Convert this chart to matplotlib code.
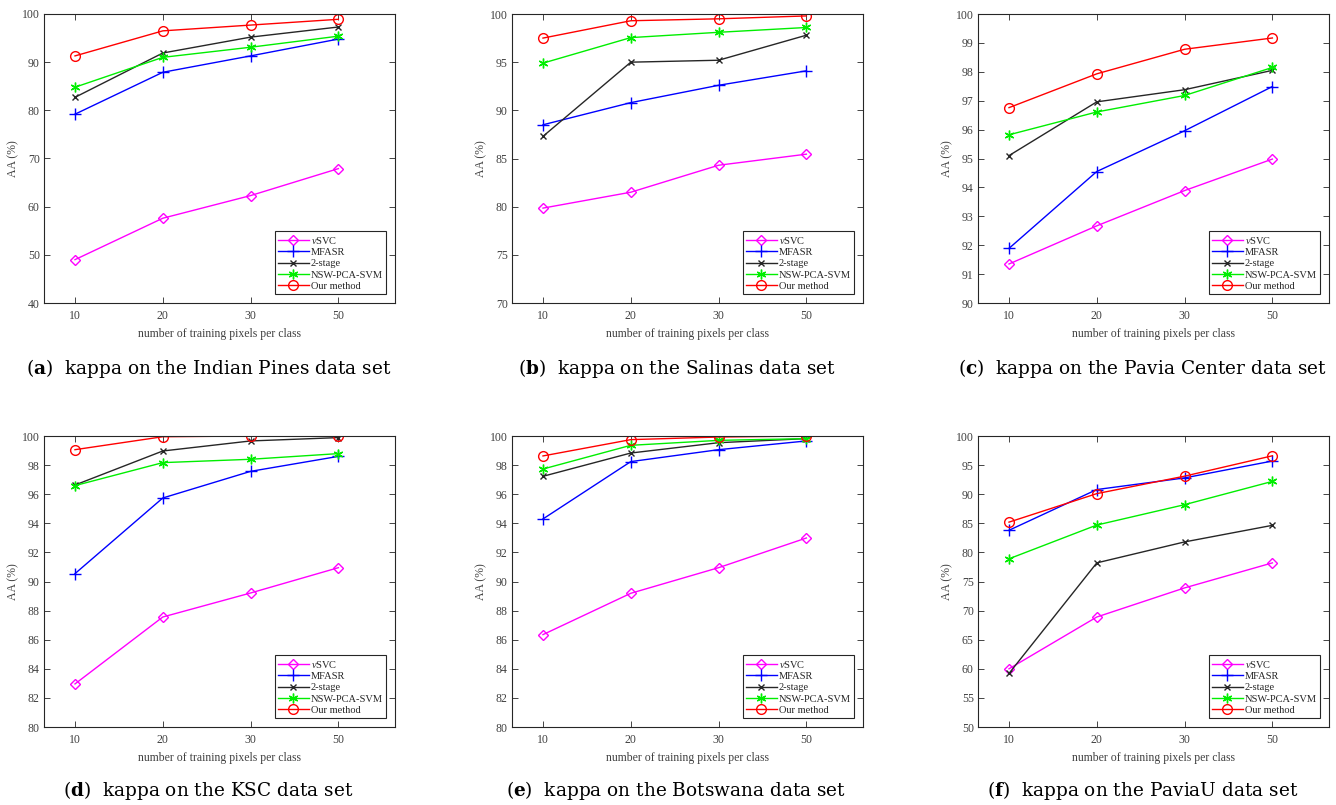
import matplotlib
matplotlib.use("Agg")
import matplotlib.pyplot as plt

plt.rcParams['font.family'] = ['Liberation Serif', 'DejaVu Serif']
plt.rcParams['mathtext.fontset'] = 'custom'
plt.rcParams['mathtext.rm'] = 'Liberation Serif'
plt.rcParams['mathtext.it'] = 'Liberation Serif:italic'
plt.rcParams['mathtext.bf'] = 'DejaVu Serif:bold'

x_labels = ['10', '20', '30', '50']
methods = [r'$\nu$SVC', 'MFASR', '2-stage', 'NSW-PCA-SVM', 'Our method']

# Panel data (each list: nuSVC, MFASR, 2-stage, NSW-PCA-SVM, Our method)
indian_pines = [
    [49.0, 57.6, 62.3, 67.9],
    [79.2, 87.9, 91.3, 94.8],
    [82.7, 91.9, 95.2, 97.3],
    [84.8, 91.0, 93.1, 95.4],
    [91.3, 96.5, 97.7, 98.9],
]
salinas = [
    [79.85, 81.5, 84.3, 85.45],
    [88.5, 90.8, 92.6, 94.1],
    [87.3, 95.0, 95.2, 97.8],
    [94.9, 97.55, 98.1, 98.6],
    [97.5, 99.3, 99.5, 99.8],
]
pavia_center = [
    [91.35, 92.67, 93.89, 94.98],
    [91.89, 94.55, 95.96, 97.49],
    [95.10, 96.96, 97.38, 98.05],
    [95.82, 96.61, 97.18, 98.15],
    [96.76, 97.93, 98.78, 99.17],
]
ksc = [
    [82.96, 87.56, 89.21, 90.95],
    [90.54, 95.74, 97.57, 98.60],
    [96.63, 98.97, 99.66, 99.89],
    [96.59, 98.17, 98.40, 98.79],
    [99.06, 99.95, 100.0, 100.0],
]
botswana = [
    [86.35, 89.19, 90.95, 92.99],
    [94.30, 98.24, 99.06, 99.66],
    [97.23, 98.83, 99.54, 99.82],
    [97.73, 99.36, 99.70, 99.82],
    [98.63, 99.75, 99.93, 100.0],
]
paviau = [
    [60.0, 68.9, 73.9, 78.2],
    [83.8, 90.8, 92.8, 95.7],
    [59.2, 78.2, 81.8, 84.65],
    [78.9, 84.7, 88.2, 92.2],
    [85.2, 90.1, 93.1, 96.6],
]

panels = [
    ('a', 'Indian Pines', indian_pines, (40, 100), 10),
    ('b', 'Salinas', salinas, (70, 100), 5),
    ('c', 'Pavia Center', pavia_center, (90, 100), 1),
    ('d', 'KSC', ksc, (80, 100), 2),
    ('e', 'Botswana', botswana, (80, 100), 2),
    ('f', 'PaviaU', paviau, (50, 100), 5),
]

colors = ['#ff00ff', '#0000ff', '#262626', '#00ee00', '#ff0000']
markers = ['D', '+', 'x', (6, 2, 0), 'o']
msizes = [5.5, 8, 4.5, 7, 7]

W, H = 1336, 805
fig = plt.figure(figsize=(W / 100, H / 100), dpi=100)

lefts = [44, 512, 978]
rows = [(14, 303), (436, 727)]
caption_y = [368, 790]
axw = 351

for i, (letter, name, data, ylim, ystep) in enumerate(panels):
    r, c = divmod(i, 3)
    top, bot = rows[r]
    ax = fig.add_axes([lefts[c] / W, 1 - bot / H, axw / W, (bot - top) / H])
    xs = list(range(len(x_labels)))
    for k, series in enumerate(data):
        ax.plot(xs, series, color=colors[k], marker=markers[k],
                markersize=msizes[k], markerfacecolor='none',
                markeredgecolor=colors[k], markeredgewidth=1.0,
                linewidth=1.0, label=methods[k])
    ax.set_xlim(-0.353, 3.645)
    ax.set_ylim(*ylim)
    ax.set_xticks(xs)
    ax.set_xticklabels(x_labels)
    yt = list(range(ylim[0], ylim[1] + 1, ystep))
    ax.set_yticks(yt)
    ax.tick_params(direction='in', top=True, right=True, labelsize=8.5,
                   colors='#262626', length=4, width=0.6)
    ax.tick_params(axis='x', pad=5)
    ax.tick_params(axis='y', pad=3)
    ax.tick_params(axis='both', labelcolor='#404040')
    for s in ax.spines.values():
        s.set_linewidth(0.8)
        s.set_color('#262626')
    ax.set_xlabel('number of training pixels per class', fontsize=8.5,
                  color='#404040', labelpad=4)
    ax.set_ylabel('AA (%)', fontsize=8.5, color='#404040', labelpad=2)
    leg = ax.legend(loc='lower right', fontsize=7.5, frameon=True,
                    fancybox=False, edgecolor='#262626', handlelength=3.0,
                    handletextpad=0.2, borderpad=0.3, labelspacing=0.2,
                    borderaxespad=0.85, framealpha=1)
    leg.get_frame().set_linewidth(0.8)
    for t in leg.get_texts():
        t.set_color('#262626')
    cx = (lefts[c] + axw / 2 - 11) / W
    fig.text(cx, 1 - caption_y[r] / H,
             r'($\mathbf{%s}$)  kappa on the %s data set' % (letter, name),
             ha='center', va='center', fontsize=13.3, color='black',
             family='DejaVu Serif')

fig.savefig('out.png', dpi=100)
